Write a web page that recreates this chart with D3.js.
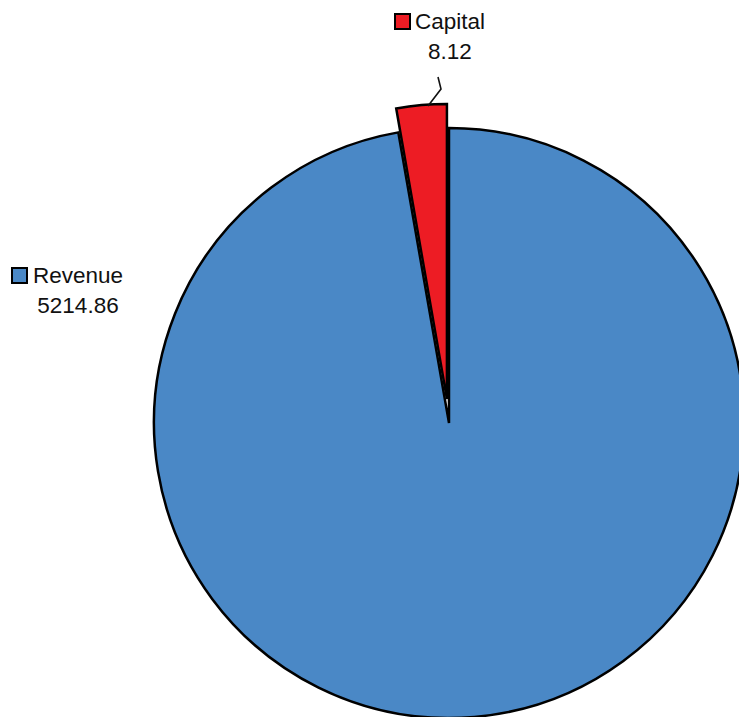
<!DOCTYPE html>
<html>
<head>
<meta charset="utf-8">
<script src="https://cdn.jsdelivr.net/npm/d3@7"></script>
<style>
  body { margin: 0; background: #fff; }
  text { font-family: "Liberation Sans", Arial, sans-serif; fill: #111; }
</style>
</head>
<body>
<script>
// categories and the values printed in the labels
var categories = ["Revenue", "Capital"];
var values = [5214.86, 8.12];
// share of the circle each slice takes in the picture (percent)
var shares = [97.25, 2.75];
var colors = ["#4a88c6", "#ed1c24"];

function init() {
    var w = 739, h = 717;
    var cx = 449, cy = 423, r = 295;
    var explode = 24;

    var svg = d3.select("body")
        .append("svg")
        .attr("width", w)
        .attr("height", h);

    var pie = d3.pie()
        .sort(null)
        .value(function(d, i) { return shares[i]; });

    var arc = d3.arc()
        .innerRadius(0)
        .outerRadius(r);

    var arcs = pie(categories);

    var g = svg.append("g")
        .attr("transform", "translate(" + cx + "," + cy + ")");

    // slices, capital pulled out
    g.selectAll("path")
        .data(arcs)
        .enter()
        .append("path")
        .attr("d", arc)
        .attr("fill", function(d, i) { return colors[i]; })
        .attr("stroke", "#000")
        .attr("stroke-width", 2.5)
        .attr("stroke-linejoin", "miter")
        .attr("transform", function(d, i) {
            if (i === 0) return null;
            var a = (d.startAngle + d.endAngle) / 2;
            return "translate(" + (Math.sin(a) * explode) + "," + (-Math.cos(a) * explode) + ")";
        });

    // leader line for Capital
    svg.append("polyline")
        .attr("points", "428,106 441,89 438,77")
        .attr("fill", "none")
        .attr("stroke", "#111")
        .attr("stroke-width", 1.6);

    // labels: key square, name, value
    var labelPos = [
        { key: [12, 268], name: [33, 283], val: [78, 313] },
        { key: [395, 14], name: [415, 29], val: [450, 59] }
    ];

    categories.forEach(function(c, i) {
        var p = labelPos[i];
        svg.append("rect")
            .attr("x", p.key[0])
            .attr("y", p.key[1])
            .attr("width", 15)
            .attr("height", 15)
            .attr("fill", colors[i])
            .attr("stroke", "#000")
            .attr("stroke-width", 2);
        svg.append("text")
            .attr("x", p.name[0])
            .attr("y", p.name[1])
            .attr("font-size", 22.5)
            .text(c);
        svg.append("text")
            .attr("x", p.val[0])
            .attr("y", p.val[1])
            .attr("font-size", 22.5)
            .attr("text-anchor", "middle")
            .text(values[i].toFixed(2));
    });
}

window.onload = init;
</script>
</body>
</html>
